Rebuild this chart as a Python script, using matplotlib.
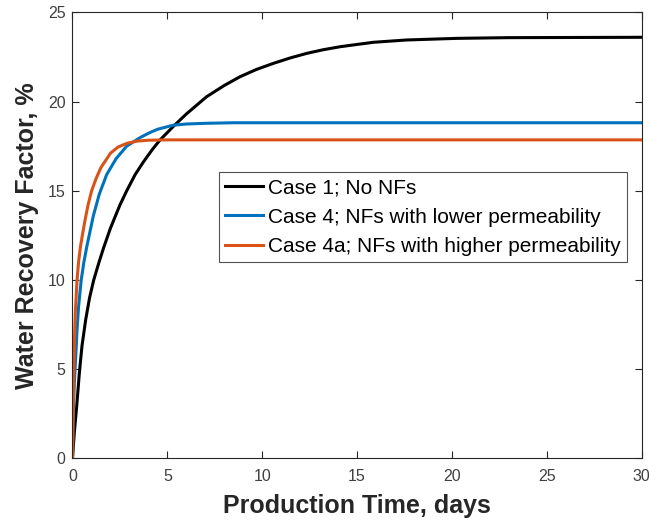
import matplotlib
matplotlib.use('Agg')
import matplotlib.pyplot as plt

plt.rcParams['font.family'] = ['Liberation Sans', 'DejaVu Sans']

# Case 1; No NFs
t_case1 = [0, 0.1, 0.22, 0.36, 0.5, 0.7, 0.9, 1.12, 1.4, 1.64, 2.0, 2.5, 2.86, 3.3,
           3.73, 4.2, 4.61, 5.31, 6.0, 7.07, 8.0, 8.83, 9.7, 10.59, 11.5, 12.35, 13.2,
           14.1, 15.0, 15.86, 17.62, 20.25, 23, 30]
rf_case1 = [0, 1.5, 2.9, 4.76, 6.3, 7.8, 9.0, 10.0, 11.0, 11.8, 12.9, 14.2, 15.0, 15.9,
            16.6, 17.3, 17.84, 18.6, 19.3, 20.27, 20.9, 21.39, 21.8, 22.14, 22.45, 22.7,
            22.9, 23.07, 23.2, 23.32, 23.45, 23.54, 23.58, 23.6]

# Case 4; NFs with lower permeability
t_case4 = [0, 0.04, 0.1, 0.18, 0.24, 0.32, 0.46, 0.6, 0.76, 0.9, 1.1, 1.41, 1.8, 2.3,
           2.86, 3.15, 3.6, 4.1, 4.5, 5.3, 6.0, 7.07, 8.5, 30]
rf_case4 = [0, 2.5, 4.3, 5.9, 7.2, 8.5, 10.0, 11.0, 11.9, 12.6, 13.6, 14.8, 15.9, 16.8,
            17.5, 17.7, 18.0, 18.27, 18.45, 18.67, 18.74, 18.78, 18.81, 18.81]

# Case 4a; NFs with higher permeability
t_case4a = [0, 0.03, 0.06, 0.1, 0.15, 0.24, 0.32, 0.41, 0.52, 0.67, 0.82, 1.01, 1.25,
            1.5, 2.0, 2.4, 2.88, 3.4, 4.0, 5, 30]
rf_case4a = [0, 2.5, 4.5, 6.5, 8.2, 10.0, 11.0, 11.8, 12.5, 13.4, 14.2, 15.0, 15.7,
             16.3, 17.1, 17.45, 17.66, 17.78, 17.83, 17.85, 17.85]

labels = ['Case 1; No NFs',
          'Case 4; NFs with lower permeability',
          'Case 4a; NFs with higher permeability']
colors = ['#000000', '#0072BD', '#D95319']

fig = plt.figure(figsize=(6.49, 5.22), dpi=100)
ax = fig.add_axes([0.1117, 0.122, 0.877, 0.8544])

ax.plot(t_case1, rf_case1, color=colors[0], lw=2.2, label=labels[0])
ax.plot(t_case4, rf_case4, color=colors[1], lw=2.2, label=labels[1])
ax.plot(t_case4a, rf_case4a, color=colors[2], lw=2.2, label=labels[2])

ax.set_xlim(0, 30)
ax.set_ylim(0, 25)
ax.set_xticks([0, 5, 10, 15, 20, 25, 30])
ax.set_yticks([0, 5, 10, 15, 20, 25])
ax.tick_params(direction='in', length=5, width=0.8, top=True, right=True,
               labelsize=11.5, labelcolor='#404040', color='#262626')
ax.tick_params(axis='x', pad=8)
ax.tick_params(axis='y', pad=5)
for s in ax.spines.values():
    s.set_color('#262626')
    s.set_linewidth(0.8)

ax.set_xlabel('Production Time, days', fontsize=18, fontweight='bold',
              color='#262626', labelpad=7)
ax.set_ylabel('Water Recovery Factor, %', fontsize=18, fontweight='bold',
              color='#262626', labelpad=6)

leg = ax.legend(loc='upper left', bbox_to_anchor=(0.2574, 0.642), fontsize=15,
                frameon=True, fancybox=False, edgecolor='#262626',
                handlelength=1.8, handletextpad=0.25, borderpad=0.3,
                labelspacing=0.5, borderaxespad=0)
leg.get_frame().set_linewidth(0.8)

fig.savefig('out.png', dpi=100)
